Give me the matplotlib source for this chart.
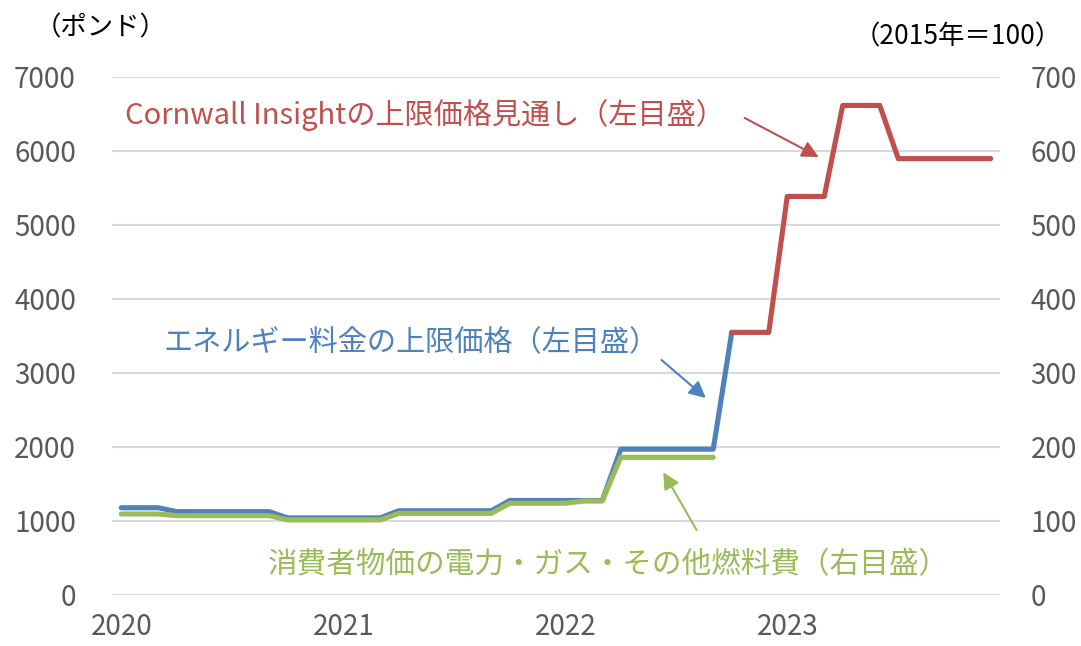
import matplotlib
matplotlib.use("Agg")
import matplotlib.pyplot as plt

plt.rcParams['font.family'] = ['Noto Sans CJK JP', 'DejaVu Sans']

# monthly, Jan 2020 - Dec 2023 (48 months)
n_months = 48
year_labels = ['2020', '2021', '2022', '2023']

# Ofgem energy price cap (GBP), Jan 2020 - Oct 2022
price_cap = ([1179] * 3 + [1126] * 6 + [1042] * 6 + [1138] * 6 +
             [1277] * 6 + [1971] * 6 + [3549])
# Cornwall Insight forecast (GBP), Oct 2022 - Dec 2023
cornwall = [3549] * 3 + [5386] * 3 + [6616] * 3 + [5897] * 6
# CPI electricity, gas & other fuels (2015=100), Jan 2020 - Sep 2022
cpi_fuel = ([109.5, 109.5, 109.4] + [107.2] * 6 + [101.5] * 6 +
            [110.3] * 6 + [124.0] * 4 + [127.0] * 2 + [186.0] * 6)

blue = '#4F81BD'
red = '#C0504D'
green = '#9BBB59'
grey = '#595959'

fig = plt.figure(figsize=(10.81, 6.46), dpi=100)
ax = fig.add_axes([112 / 1081, 1 - 595 / 646, 888 / 1081, 518 / 646])
ax2 = ax.twinx()

x_cap = list(range(len(price_cap)))
x_corn = list(range(len(price_cap) - 1, len(price_cap) - 1 + len(cornwall)))
x_cpi = list(range(len(cpi_fuel)))

ax.plot(x_cap, price_cap, color=blue, lw=3.7, solid_capstyle='round',
        solid_joinstyle='round', zorder=3)
ax.plot(x_corn, cornwall, color=red, lw=3.7, solid_capstyle='round',
        solid_joinstyle='round', zorder=4)
ax2.plot(x_cpi, cpi_fuel, color=green, lw=3.7, solid_capstyle='round',
         solid_joinstyle='round', zorder=3)

ax.set_xlim(-0.5, n_months - 0.5)
ax.set_ylim(0, 7000)
ax2.set_ylim(0, 700)
ax.set_yticks(range(0, 7001, 1000))
ax2.set_yticks(range(0, 701, 100))
ax.set_xticks([0, 12, 24, 36])
ax.set_xticklabels(year_labels)

ax.grid(axis='y', color='#D9D9D9', lw=1.5)
ax.set_axisbelow(True)
for a in (ax, ax2):
    for s in a.spines.values():
        s.set_visible(False)
ax.tick_params(axis='x', length=0, pad=12, labelsize=20, labelcolor=grey)
ax.tick_params(axis='y', length=0, pad=26, labelsize=20, labelcolor=grey)
ax2.tick_params(axis='y', length=0, pad=22, labelsize=20, labelcolor=grey)

# annotations
ax.text(0.2, 6486, 'Cornwall Insightの上限価格見通し（左目盛）', color=red,
        fontsize=21, ha='left', va='center')
ax.annotate('', xy=(37.7, 5919), xytext=(33.7, 6446),
            arrowprops=dict(arrowstyle='-|>', color=red, lw=1.5,
                            mutation_scale=25, shrinkA=0, shrinkB=0))

ax.text(2.27, 3405, 'エネルギー料金の上限価格（左目盛）', color=blue,
        fontsize=21, ha='left', va='center')
ax.annotate('', xy=(31.6, 2662), xytext=(29.2, 3176),
            arrowprops=dict(arrowstyle='-|>', color=blue, lw=1.5,
                            mutation_scale=25, shrinkA=0, shrinkB=0))

ax2.text(7.95, 40.5, '消費者物価の電力・ガス・その他燃料費（右目盛）', color=green,
         fontsize=21.3, ha='left', va='center')
ax2.annotate('', xy=(29.3, 166), xytext=(31.1, 87.8),
             arrowprops=dict(arrowstyle='-|>', color=green, lw=1.5,
                             mutation_scale=25, shrinkA=0, shrinkB=0))

fig.text(35 / 1081, 1 - 28 / 646, '（ポンド）', fontsize=19, color='black',
         ha='left', va='center')
fig.text(1062 / 1081, 1 - 37 / 646, '（2015年＝100）', fontsize=19, color='black',
         ha='right', va='center')

fig.savefig('out.png', dpi=100)
